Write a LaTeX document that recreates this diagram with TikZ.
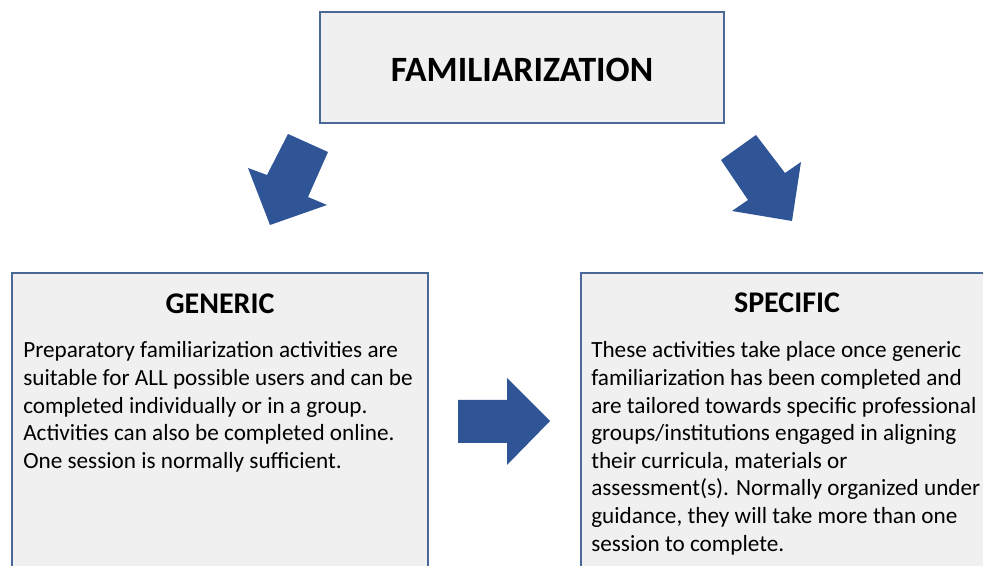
\documentclass[tikz,border=0pt]{standalone}
\usepackage{fontspec}
\setmainfont{Carlito}
\definecolor{boxfill}{HTML}{F0F0F0}
\definecolor{boxline}{HTML}{4A6898}
\definecolor{arrowblue}{HTML}{2F5597}
\tikzset{
  panel/.style={draw=boxline, line width=1.5pt, fill=boxfill},
  blockarrow/.style={fill=arrowblue, draw=none},
  heading/.style={inner sep=0pt, anchor=base, font=\bfseries\fontsize{22.5}{26}\selectfont},
  body/.style={inner sep=0pt, anchor=base west, align=left, font=\fontsize{17.4}{20.7}\selectfont},
}
\begin{document}
\begin{tikzpicture}[x=0.75pt, y=-0.75pt]
\clip (0,0) rectangle (983,566);
\fill[white] (0,0) rectangle (983,566);
% top box
\draw[panel] (320,12) rectangle (724,123);
\node[inner sep=0pt, anchor=base, font=\bfseries\fontsize{26.7}{32}\selectfont] (fam) at (522,82) {FAMILIARIZATION};
% generic box
\draw[panel] (12,273) rectangle (428,600);
\node[heading] (gen) at (220,314) {GENERIC};
\node[body] (gentext) at (23,468.4) {Preparatory familiarization activities are\\suitable for ALL possible users and can be\\completed individually or in a group.\\Activities can also be completed online.\\One session is normally sufficient.};
% specific box
\draw[panel] (581,273) rectangle (995,600);
\node[heading] (spec) at (787,313) {SPECIFIC};
\node[body] (spectext) at (591,551.2) {These activities take place once generic\\familiarization has been completed and\\are tailored towards specific professional\\groups/institutions engaged in aligning\\their curricula, materials or\\assessment(s). Normally organized under\\guidance, they will take more than one\\session to complete.};
% arrows
\fill[blockarrow] (288,134) -- (328,152) -- (308,197) -- (327,205) -- (270,225) -- (248,168) -- (267,175) -- cycle;
\fill[blockarrow] (756,135) -- (785,173) -- (801,162) -- (792,221) -- (732,211) -- (748,200) -- (721,160) -- cycle;
\fill[blockarrow] (458,400) -- (507,400) -- (507,378) -- (550,421) -- (507,465) -- (507,443) -- (458,443) -- cycle;
\end{tikzpicture}
\end{document}
